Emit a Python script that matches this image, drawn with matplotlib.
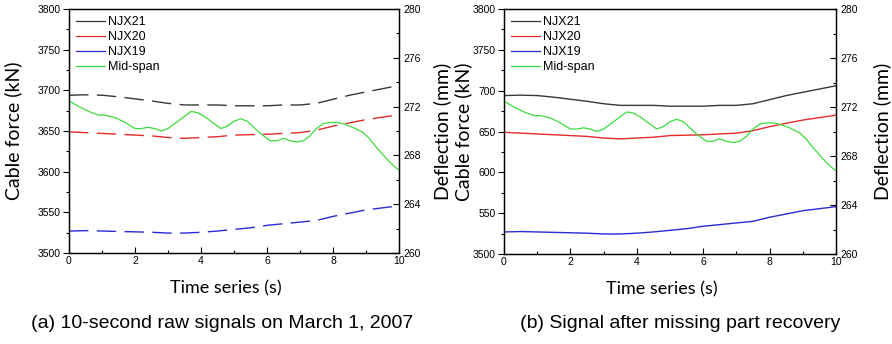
import numpy as np
import matplotlib
matplotlib.use("Agg")
import matplotlib.pyplot as plt
from matplotlib.lines import Line2D

# cable force samples (kN)
t_cable = [0, 0.5, 1, 1.5, 2, 2.5, 3, 3.5, 4, 4.5, 5, 5.5, 6, 6.5, 7, 7.5, 8, 8.5, 9, 9.5, 10]
njx21 = [3694, 3694.5, 3694, 3692, 3689.5, 3687, 3684, 3682, 3682, 3682, 3681, 3681, 3681, 3682, 3682, 3684,
         3689, 3694, 3698, 3702, 3706]
njx20 = [3649, 3648, 3647, 3646, 3645, 3644, 3642, 3641, 3642, 3643, 3645, 3645.5, 3646, 3647, 3648, 3651,
         3656, 3660, 3664, 3667, 3670]
njx19 = [3527, 3527.5, 3527, 3526.5, 3526, 3525.5, 3524.5, 3524.5, 3525.5, 3527, 3529, 3531, 3534, 3536, 3538,
         3540, 3545, 3549, 3553, 3555.5, 3558]

# mid-span deflection (mm)
t_defl = [0.05, 0.3, 0.6, 0.9, 1.1, 1.4, 1.7, 2.0, 2.2, 2.4, 2.6, 2.8, 3.0, 3.2, 3.4, 3.7, 3.9, 4.1, 4.3, 4.6,
          4.8, 5.0, 5.2, 5.4, 5.6, 5.8, 6.1, 6.3, 6.5, 6.7, 6.9, 7.1, 7.3, 7.5, 7.7, 7.9, 8.1, 8.3, 8.6, 8.9,
          9.1, 9.3, 9.5, 9.7, 9.9, 10]
midspan = [272.4, 272.0, 271.6, 271.3, 271.3, 271.1, 270.7, 270.2, 270.2, 270.3, 270.2, 270.0, 270.2, 270.6,
           271.0, 271.6, 271.5, 271.2, 270.8, 270.2, 270.4, 270.8, 271.0, 270.8, 270.3, 269.8, 269.2, 269.2,
           269.4, 269.2, 269.1, 269.2, 269.6, 270.2, 270.6, 270.7, 270.7, 270.6, 270.3, 269.9, 269.4, 268.7,
           268.1, 267.5, 267.0, 266.8]

series_names = ["NJX21", "NJX20", "NJX19", "Mid-span"]
series_colors = ["#383838", "#e42a2a", "#2b2bd6", "#3ddc3d"]
right_panel_yticklabels = ["3500", "550", "600", "650", "700", "3750", "3800"]
captions = ["(a) 10-second raw signals on March 1, 2007", "(b) Signal after missing part recovery"]

plt.rcParams["font.family"] = "Liberation Sans"

fig = plt.figure(figsize=(8.92, 3.44), dpi=100)
W, H = 892, 344


def panel(left_px, right_px, top_px, bottom_px, dashed, yticklabels=None):
    w = right_px - left_px
    h = bottom_px - top_px
    ax = fig.add_axes([left_px / W, 1 - bottom_px / H, w / W, h / H])
    ax2 = ax.twinx()
    ls = (0, (14, 6)) if dashed else "-"
    ax.plot(t_cable, njx21, color=series_colors[0], lw=1.0, ls=ls)
    ax.plot(t_cable, njx20, color=series_colors[1], lw=1.0, ls=ls)
    ax.plot(t_cable, njx19, color=series_colors[2], lw=1.0, ls=ls)
    ax2.plot(t_defl, midspan, color=series_colors[3], lw=0.9)

    ax.set_xlim(0, 10)
    ax.set_ylim(3500, 3800)
    ax2.set_ylim(260, 280)
    ax.set_xticks(np.arange(0, 11, 2))
    ax.set_xticks(np.arange(0, 11, 1), minor=True)
    ax.set_yticks(np.arange(3500, 3801, 50))
    ax.set_yticks(np.arange(3500, 3801, 25), minor=True)
    if yticklabels is not None:
        ax.set_yticklabels(yticklabels)
    ax2.set_yticks(np.arange(260, 281, 4))
    ax2.set_yticks(np.arange(260, 281, 2), minor=True)

    ax.tick_params(axis="y", which="major", direction="out", length=4, width=0.8, labelsize=7.5, pad=2)
    ax.tick_params(axis="y", which="minor", direction="out", length=2, width=0.8)
    ax.tick_params(axis="x", which="major", direction="in", length=4, width=0.8, labelsize=7.5, pad=2)
    ax.tick_params(axis="x", which="minor", direction="in", length=2, width=0.8)
    ax2.tick_params(axis="y", which="major", direction="in", length=4, width=0.8, labelsize=7.5, pad=3)
    ax2.tick_params(axis="y", which="minor", direction="in", length=2, width=0.8)
    for a in (ax, ax2):
        for s in a.spines.values():
            s.set_linewidth(0.9)

    ax.set_xlabel("Time series (s)", family="Lato", fontsize=13)
    ax.set_ylabel("Cable force (kN)", family="Lato", fontsize=14)
    ax2.set_ylabel("Deflection (mm)", family="Lato", fontsize=14)
    return ax, ax2


def legend(ax2):
    handles = [Line2D([], [], color=c, lw=0.9) for c in series_colors]
    ax2.legend(handles, series_names, loc="upper left", frameon=False, fontsize=9,
               handlelength=2.3, handletextpad=0.3, labelspacing=0.25,
               borderaxespad=0.35, borderpad=0.2)


axa, axa2 = panel(69, 399, 9, 253, dashed=True)
axa.xaxis.set_label_coords(0.476, -0.112)
axa.yaxis.set_label_coords(-0.141, 0.5)
axa2.yaxis.set_label_coords(1.103, 0.5)
legend(axa2)

axb, axb2 = panel(504, 836, 9, 254, dashed=False, yticklabels=right_panel_yticklabels)
axb.xaxis.set_label_coords(0.476, -0.11)
axb.yaxis.set_label_coords(-0.096, 0.5)
axb2.yaxis.set_label_coords(1.111, 0.5)
legend(axb2)

fig.text(222 / W, 1 - 323 / H, captions[0], fontsize=14, ha="center", va="center")
fig.text(680 / W, 1 - 323 / H, captions[1], fontsize=14, ha="center", va="center")

fig.savefig("out.png", dpi=100)
